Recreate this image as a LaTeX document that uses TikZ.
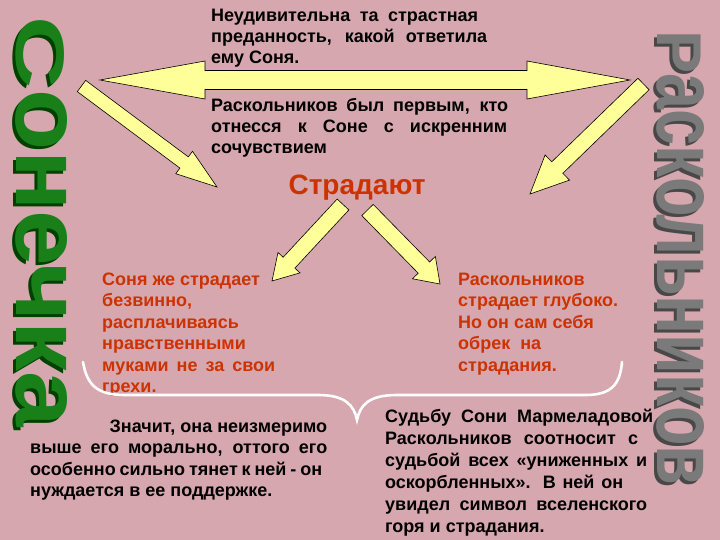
\documentclass[tikz,border=0pt]{standalone}
\usepackage{fontspec}
\setmainfont{Liberation Sans}
\usetikzlibrary{calc}
\definecolor{bg}{RGB}{214,167,175}
\definecolor{arrowfill}{RGB}{255,255,153}
\definecolor{redtxt}{RGB}{204,51,0}
\definecolor{sgreen}{RGB}{25,128,25}
\definecolor{sgreendark}{RGB}{0,65,0}
\definecolor{rgrey}{RGB}{122,122,122}
\definecolor{rgreydark}{RGB}{72,72,72}
\newcommand\jl[2]{\makebox[#1][s]{#2}}
\newcommand\pline[1]{\hbox{#1}}
% tail, tip, shaft half width, head half width, head length
\newcommand\blockarrow[5]{%
  \path ($(#2)!#5!(#1)$) coordinate (hb);
  \filldraw[barrow] ($(#1)!#3!90:(#2)$) -- ($(hb)!#3!90:(#2)$) -- ($(hb)!#4!90:(#2)$) -- (#2)
    -- ($(hb)!#4!-90:(#2)$) -- ($(hb)!#3!-90:(#2)$) -- ($(#1)!#3!-90:(#2)$) -- cycle;}
\begin{document}
\begin{tikzpicture}[x=1pt,y=-1pt,
  barrow/.style={fill=arrowfill,draw=black,line width=0.6pt,line join=miter},
  txt/.style={anchor=base west,inner sep=0pt,text=black,
    font=\bfseries\fontsize{18}{21}\selectfont},
  redt/.style={txt,text=redtxt,font=\bfseries\fontsize{18}{21.5}\selectfont},
  bigword/.style={rotate=-90,inner sep=0pt,font=\bfseries},
  brace/.style={draw=white,line width=2.6pt,line cap=round}]
\fill[bg] (0,0) rectangle (720,540);
\useasboundingbox (0,0) rectangle (720,540);

% big vertical words
\node[bigword,text=sgreendark] at (38.5,225) {\resizebox{410pt}{51pt}{С\scalebox{1}[1.38]{онечка}}};
\node[bigword,text=sgreen] (sonya) at (42,222) {\resizebox{410pt}{51pt}{С\scalebox{1}[1.38]{онечка}}};
\node[bigword,text=rgreydark] at (677.5,261) {\resizebox{455pt}{47pt}{Р\scalebox{1}[1.38]{аскольников}}};
\node[bigword,text=rgrey] (rask) at (681,258) {\resizebox{455pt}{47pt}{Р\scalebox{1}[1.38]{аскольников}}};

% texts
\node[txt] (q1) at (211,22) {\vtop{\pline{\jl{267pt}{Неудивительна та страстная}}\pline{\jl{276pt}{преданность, какой ответила}}\pline{ему Соня.}}};
\node[txt] (q2) at (211,112) {\vtop{\pline{\jl{297pt}{Раскольников был первым, кто}}\pline{\jl{296pt}{отнесся к Соне с искренним}}\pline{сочувствием}}};
\node[anchor=base,inner sep=0pt,text=redtxt,font=\bfseries\fontsize{28}{30}\selectfont] (s) at (357,195) {Страдают};
\node[redt] (l) at (102,285) {\vtop{\pline{Соня же страдает}\pline{безвинно,}\pline{расплачиваясь}\pline{нравственными}\pline{\jl{173pt}{муками не за свои}}\pline{грехи.}}};
\node[redt] (r) at (458,285) {\vtop{\pline{Раскольников}\pline{страдает глубоко.}\pline{Но он сам себя}\pline{\jl{83pt}{обрек на}}\pline{страдания.}}};
\node[txt,font=\bfseries\fontsize{18}{21.5}\selectfont] (bl) at (30,432) {\vtop{\pline{\makebox[297pt][r]{Значит, она неизмеримо}}\pline{\jl{297pt}{выше его морально, оттого его}}\pline{\jl{292pt}{особенно сильно тянет к ней - он}}\pline{нуждается в ее поддержке.}}};
\node[txt,font=\bfseries\fontsize{18}{22}\selectfont] (br) at (385,422) {\vtop{\pline{\jl{268pt}{Судьбу Сони Мармеладовой}}\pline{\jl{253pt}{Раскольников соотносит с}}\pline{\jl{262pt}{судьбой всех «униженных и}}\pline{\jl{238pt}{оскорбленных». В ней он}}\pline{\jl{262pt}{увидел символ вселенского}}\pline{горя и страдания.}}};

% double-headed arrow
\coordinate (dl) at (100,80);
\coordinate (dr) at (630,80);
\filldraw[barrow] (dl) -- ($(dl)+(105,-19)$) -- ($(dl)+(105,-9.5)$) -- ($(dr)+(-103,-9.5)$)
  -- ($(dr)+(-103,-19)$) -- (dr) -- ($(dr)+(-103,19)$) -- ($(dr)+(-103,9.5)$)
  -- ($(dl)+(105,9.5)$) -- ($(dl)+(105,19)$) -- cycle;

% diagonal arrows
\coordinate (tl1) at (81.5,86);   \coordinate (tl2) at (217,187);
\coordinate (tr1) at (643.5,84);  \coordinate (tr2) at (530,194);
\coordinate (ml1) at (343,204.5); \coordinate (ml2) at (272,281);
\coordinate (mr1) at (367.5,210); \coordinate (mr2) at (440,284);
\blockarrow{tl1}{tl2}{7pt}{14pt}{41pt}
\blockarrow{tr1}{tr2}{8pt}{17.5pt}{38pt}
\blockarrow{ml1}{ml2}{8pt}{15pt}{25pt}
\blockarrow{mr1}{mr2}{8pt}{16pt}{23pt}

% brace
\draw[brace] (83,362) .. controls (87,385) and (97,395) .. (125,395) -- (318,395)
  .. controls (345,395) and (354,405) .. (357,420)
  .. controls (360,405) and (369,395) .. (397,395) -- (585,395)
  .. controls (611,395) and (620,385) .. (622,362);
\end{tikzpicture}
\end{document}
